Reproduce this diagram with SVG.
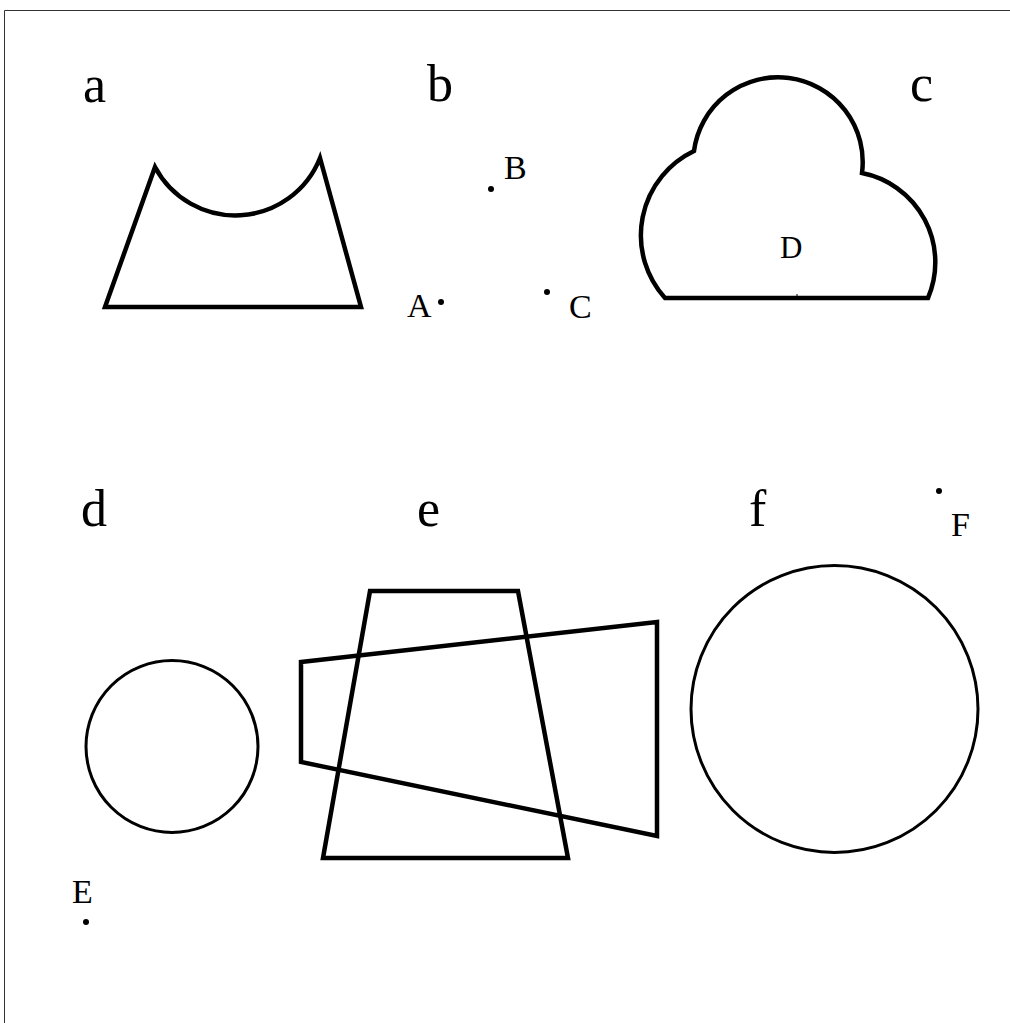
<svg xmlns="http://www.w3.org/2000/svg" width="1010" height="1023" viewBox="0 0 1010 1023">
<style>
.big{font-family:"Liberation Serif","Times New Roman",serif;font-size:52px;fill:#000}
.lbl{font-family:"Liberation Serif","Times New Roman",serif;font-size:34px;fill:#000}
.shape{fill:none;stroke:#000;stroke-width:4.5;stroke-linejoin:miter}
.circ{fill:none;stroke:#000;stroke-width:3}
.dot{fill:#000}
</style>
<rect width="1010" height="1023" fill="#fff"/>
<path d="M4.5 1023 V10.5 H1010" fill="none" stroke="#333" stroke-width="1"/>
<g id="labels">
<text class="big" x="83" y="102">a</text>
<text class="big" x="427" y="101">b</text>
<text class="big" x="910" y="101">c</text>
<text class="big" x="81" y="526">d</text>
<text class="big" x="417" y="526">e</text>
<text class="big" x="749" y="526">f</text>
</g>
<g id="shape-a">
<path class="shape" d="M105 307 L155 167 A91 91 0 0 0 320 158 L361 307 Z"/>
</g>
<g id="points-b">
<circle class="dot" cx="441" cy="302" r="3"/>
<text class="lbl" x="407" y="317">A</text>
<circle class="dot" cx="491" cy="189" r="3"/>
<text class="lbl" x="504" y="179">B</text>
<circle class="dot" cx="547" cy="292" r="3"/>
<text class="lbl" x="569" y="318">C</text>
</g>
<g id="shape-c">
<path class="shape" d="M665 298 A93.5 93.5 0 0 1 694 151 A84 84 0 0 1 862 173 A91 91 0 0 1 928 298 Z"/>
<line x1="797" y1="294" x2="797" y2="298" stroke="#000" stroke-width="1"/>
<text class="lbl" x="780" y="258" style="font-size:31px">D</text>
</g>
<g id="shape-d">
<circle class="circ" cx="172" cy="746.5" r="86"/>
</g>
<g id="point-e">
<text class="lbl" x="72" y="903">E</text>
<circle class="dot" cx="86" cy="922" r="3"/>
</g>
<g id="shape-e">
<path class="shape" d="M370 591 L518 591 L568 858 L323 858 Z"/>
<path class="shape" d="M301 662 L657 622 L657 836 L301 762 Z"/>
</g>
<g id="shape-f">
<circle class="circ" cx="834.5" cy="709" r="143.5"/>
</g>
<g id="point-f">
<circle class="dot" cx="939" cy="491" r="3"/>
<text class="lbl" x="951" y="536">F</text>
</g>
<g id="connectors"></g>
</svg>
